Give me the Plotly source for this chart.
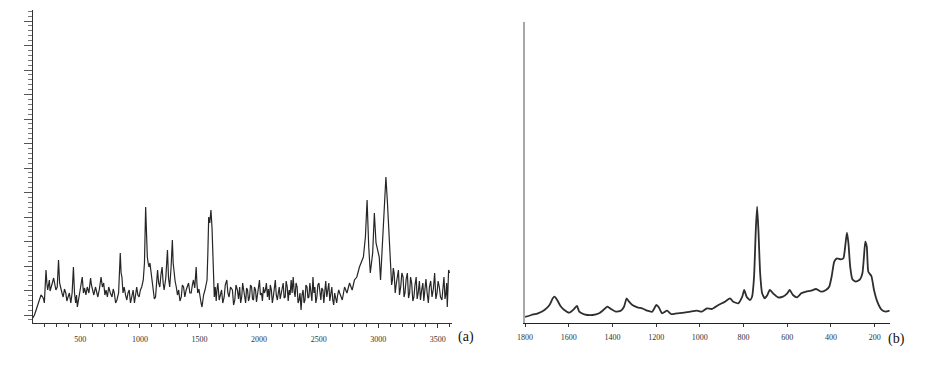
import plotly.graph_objects as go

# ---- Panel (a): Raman shift (cm-1) vs intensity (arb. units) ----
a_wavenumber = [
    101, 115, 129, 142, 156, 170, 184, 191, 198, 205, 212, 219, 226, 233, 240, 246, 253, 265, 276, 285,
    295, 306, 317, 326, 336, 346, 356, 367, 378, 387, 397, 408, 420, 431, 442, 451, 461, 468, 475, 486,
    497, 506, 516, 526, 536, 547, 558, 572, 586, 593, 600, 613, 627, 637, 647, 660, 674, 685, 696, 706,
    716, 727, 738, 752, 766, 776, 785, 796, 807, 821, 835, 842, 849, 858, 868, 879, 890, 900, 910, 921,
    932, 943, 954, 963, 973, 983, 993, 1004, 1015, 1028, 1038, 1048, 1055, 1062, 1069, 1076, 1084, 1092, 1102, 1112,
    1121, 1131, 1140, 1148, 1157, 1167, 1176, 1186, 1195, 1203, 1217, 1231, 1240, 1250, 1261, 1272, 1279, 1286, 1295, 1305,
    1315, 1325, 1336, 1347, 1356, 1366, 1377, 1388, 1398, 1408, 1419, 1430, 1440, 1449, 1460, 1472, 1478, 1485, 1495, 1505,
    1513, 1521, 1534, 1546, 1555, 1563, 1570, 1577, 1586, 1596, 1605, 1613, 1618, 1624, 1632, 1640, 1646, 1654, 1665, 1675,
    1685, 1695, 1707, 1716, 1729, 1738, 1748, 1760, 1776, 1786, 1796, 1806, 1818, 1827, 1837, 1845, 1854, 1862, 1870, 1878,
    1887, 1895, 1903, 1911, 1920, 1928, 1937, 1945, 1953, 1961, 1970, 1978, 1986, 1994, 2003, 2011, 2020, 2028, 2036, 2044,
    2053, 2061, 2070, 2078, 2086, 2094, 2103, 2111, 2119, 2127, 2136, 2144, 2153, 2161, 2169, 2177, 2186, 2194, 2202, 2210,
    2219, 2227, 2236, 2244, 2252, 2260, 2269, 2277, 2286, 2294, 2302, 2310, 2319, 2327, 2335, 2343, 2352, 2360, 2369, 2377,
    2385, 2393, 2402, 2410, 2418, 2426, 2435, 2443, 2452, 2460, 2468, 2476, 2485, 2493, 2502, 2510, 2518, 2526, 2535, 2543,
    2551, 2559, 2568, 2576, 2585, 2593, 2601, 2610, 2618, 2626, 2634, 2642, 2651, 2659, 2668, 2676, 2698, 2717, 2737, 2759,
    2781, 2800, 2820, 2842, 2861, 2875, 2892, 2906, 2920, 2933, 2953, 2967, 2981, 2994, 3008, 3019, 3036, 3050, 3064, 3077,
    3091, 3105, 3112, 3119, 3126, 3133, 3142, 3152, 3160, 3169, 3178, 3188, 3198, 3208, 3216, 3224, 3234, 3244, 3254, 3263,
    3271, 3280, 3290, 3299, 3308, 3318, 3326, 3335, 3345, 3354, 3364, 3374, 3382, 3390, 3400, 3410, 3420, 3429, 3440, 3451,
    3462, 3473, 3483, 3493, 3502, 3512, 3522, 3534, 3542, 3551, 3560, 3568, 3574, 3579, 3585, 3590, 3598]
a_intensity = [
    5, 8, 13, 18, 23, 28, 26, 24, 20, 35, 53, 40, 33, 38, 43, 32, 36, 40, 45, 38,
    33, 36, 63, 40, 33, 30, 26, 34, 30, 22, 26, 30, 20, 30, 56, 30, 20, 28, 16, 25,
    33, 38, 46, 30, 35, 28, 36, 30, 45, 38, 33, 28, 36, 30, 26, 34, 46, 36, 40, 28,
    33, 26, 36, 30, 26, 34, 30, 20, 23, 30, 70, 50, 46, 30, 36, 28, 23, 30, 33, 20,
    26, 33, 20, 30, 36, 28, 26, 33, 36, 43, 60, 116, 80, 66, 60, 56, 60, 53, 40, 33,
    24, 26, 38, 53, 40, 36, 48, 56, 40, 33, 45, 73, 45, 36, 55, 83, 60, 50, 42, 36,
    28, 33, 22, 26, 38, 36, 26, 33, 38, 40, 30, 30, 38, 43, 35, 56, 40, 30, 34, 23,
    20, 16, 28, 33, 38, 43, 70, 106, 100, 113, 95, 66, 40, 26, 36, 22, 33, 40, 23, 30,
    33, 20, 26, 38, 43, 30, 26, 36, 33, 18, 23, 38, 33, 24, 36, 20, 26, 40, 33, 25,
    20, 35, 33, 22, 26, 38, 36, 24, 23, 36, 33, 21, 26, 35, 43, 28, 30, 22, 36, 30,
    33, 40, 26, 34, 23, 38, 33, 20, 26, 34, 43, 28, 23, 30, 36, 24, 30, 38, 40, 25,
    26, 42, 36, 22, 33, 28, 43, 30, 46, 32, 26, 40, 36, 20, 23, 30, 13, 28, 33, 20,
    23, 38, 36, 25, 26, 40, 33, 22, 46, 30, 36, 20, 26, 38, 40, 28, 23, 35, 33, 20,
    36, 42, 26, 32, 40, 22, 30, 36, 23, 18, 30, 24, 20, 28, 33, 30, 23, 36, 30, 40,
    33, 43, 46, 56, 63, 66, 86, 123, 76, 50, 70, 110, 80, 73, 66, 43, 80, 103, 146, 120,
    83, 56, 38, 43, 55, 50, 30, 40, 48, 53, 28, 36, 50, 46, 26, 30, 44, 50, 25, 30,
    46, 40, 22, 26, 38, 46, 24, 30, 42, 23, 33, 40, 22, 33, 44, 30, 20, 36, 42, 26,
    34, 50, 24, 30, 42, 36, 26, 23, 38, 46, 24, 30, 40, 16, 35, 53, 50]
a_tick_values = [500, 1000, 1500, 2000, 2500, 3000, 3500]
a_tick_labels = ["500", "1000", "1500", "2000", "2500", "3000", "3500"]

# ---- Panel (b): reversed axis 1800 -> ~130 cm-1 ----
b_wavenumber = [1800, 1771, 1741, 1711, 1688, 1673, 1665, 1653, 1638, 1620, 1597, 1577, 1562, 1552, 1529, 1491,
                1461, 1438, 1423, 1405, 1385, 1362, 1347, 1335, 1324, 1309, 1286, 1264, 1241, 1218, 1199, 1188,
                1173, 1150, 1132, 1105, 1074, 1044, 1014, 991, 968, 945, 915, 885, 862, 847, 824, 806, 797, 786,
                771, 761, 752, 744, 738, 732, 724, 715, 703, 691, 680, 665, 642, 620, 600, 589, 574, 555, 536,
                514, 491, 468, 446, 423, 408, 397, 385, 373, 355, 343, 335, 327, 320, 312, 302, 286, 267, 256,
                249, 243, 236, 229, 215, 203, 188, 170, 150, 132]
b_intensity = [6, 8, 9.7, 13, 18, 24.7, 26.3, 23, 17, 13, 10.3, 13.7, 17, 11.3, 8.7, 8,
               9.7, 13.7, 16.3, 13.7, 11.3, 12.3, 16.3, 24.7, 21.3, 18, 15.7, 14.7, 12.3, 11.3, 18, 15.7,
               9.7, 12.3, 9, 9.7, 10.3, 11.3, 12.3, 11.3, 14.7, 14, 18, 21.3, 24.7, 21.3, 19.7, 26.3, 33, 26.3,
               23, 26.3, 46, 93, 116.3, 93, 49.7, 29.7, 24.7, 28, 33, 29.7, 25.7, 26.3, 29.7, 33, 28, 25.7, 29.7,
               31.3, 32.3, 34, 31.3, 33, 36.3, 46.3, 61.3, 64.7, 63.7, 64.7, 76.3, 90.3, 79.7, 56.3, 43.7, 41.3, 43.7, 49.7,
               66.3, 81.3, 76.3, 51.3, 47, 33, 21.3, 13.7, 11.3, 12.3]
b_tick_values = [1800, 1600, 1400, 1200, 1000, 800, 600, 400, 200]
b_tick_labels = ["1800", "1600", "1400", "1200", "1000", "800", "600", "400", "200"]

W, H = 936, 368
serif = "Liberation Serif, Times New Roman, serif"
tick_font = dict(family=serif, size=8, color="#333333")

fig = go.Figure()
fig.add_trace(go.Scatter(x=a_wavenumber, y=a_intensity, mode="lines",
                         line=dict(color="#262626", width=1.2), xaxis="x", yaxis="y",
                         showlegend=False, hoverinfo="skip"))
fig.add_trace(go.Scatter(x=b_wavenumber, y=b_intensity, mode="lines",
                         line=dict(color="#2e2e2e", width=1.8, shape="spline", smoothing=0.5),
                         xaxis="x2", yaxis="y2", showlegend=False, hoverinfo="skip"))

y_bottom = (H - 323) / H

fig.update_layout(
    width=W, height=H,
    margin=dict(l=0, r=0, t=0, b=0),
    paper_bgcolor="white", plot_bgcolor="white",
    xaxis=dict(domain=[25 / W, 448 / W], range=[101, 3620], showgrid=False, zeroline=False,
               showline=True, linecolor="#333333", linewidth=1,
               ticks="outside", ticklen=4, tickcolor="#333333", tickwidth=1,
               tickvals=a_tick_values, ticktext=a_tick_labels, tickfont=tick_font,
               ticklabelstandoff=4,
               minor=dict(ticks="outside", dtick=100, tick0=0, ticklen=3, tickcolor="#333333")),
    yaxis=dict(domain=[y_bottom, (H - 10) / H], range=[0, 313], showgrid=False, zeroline=False,
               showline=True, linecolor="#333333", linewidth=1,
               ticks="outside", ticklen=8, tickcolor="#555555", tickwidth=1,
               tick0=8, dtick=24.5, showticklabels=False,
               minor=dict(ticks="outside", dtick=4.9, tick0=8, ticklen=4, tickcolor="#777777")),
    xaxis2=dict(domain=[521.5 / W, 890 / W], range=[1800, 128], showgrid=False, zeroline=False,
                showline=True, linecolor="#222222", linewidth=1.2, anchor="y2",
                ticks="outside", ticklen=3, tickcolor="#333333", tickwidth=1,
                tickvals=b_tick_values, ticktext=b_tick_labels, tickfont=tick_font,
                ticklabelstandoff=3),
    yaxis2=dict(domain=[y_bottom, (H - 22) / H], range=[0, 301], showgrid=False, zeroline=False,
                showline=True, linecolor="#a8a8a8", linewidth=2, ticks="",
                showticklabels=False, anchor="x2"),
    annotations=[
        dict(text="(a)", x=462 / W, y=(H - 347) / H, xref="paper", yref="paper", showarrow=False,
             font=dict(family=serif, size=14, color="#111111")),
        dict(text="(b)", x=907 / W, y=(H - 349) / H, xref="paper", yref="paper", showarrow=False,
             font=dict(family=serif, size=14, color="#111111")),
    ],
)

fig.write_html("out.html")
